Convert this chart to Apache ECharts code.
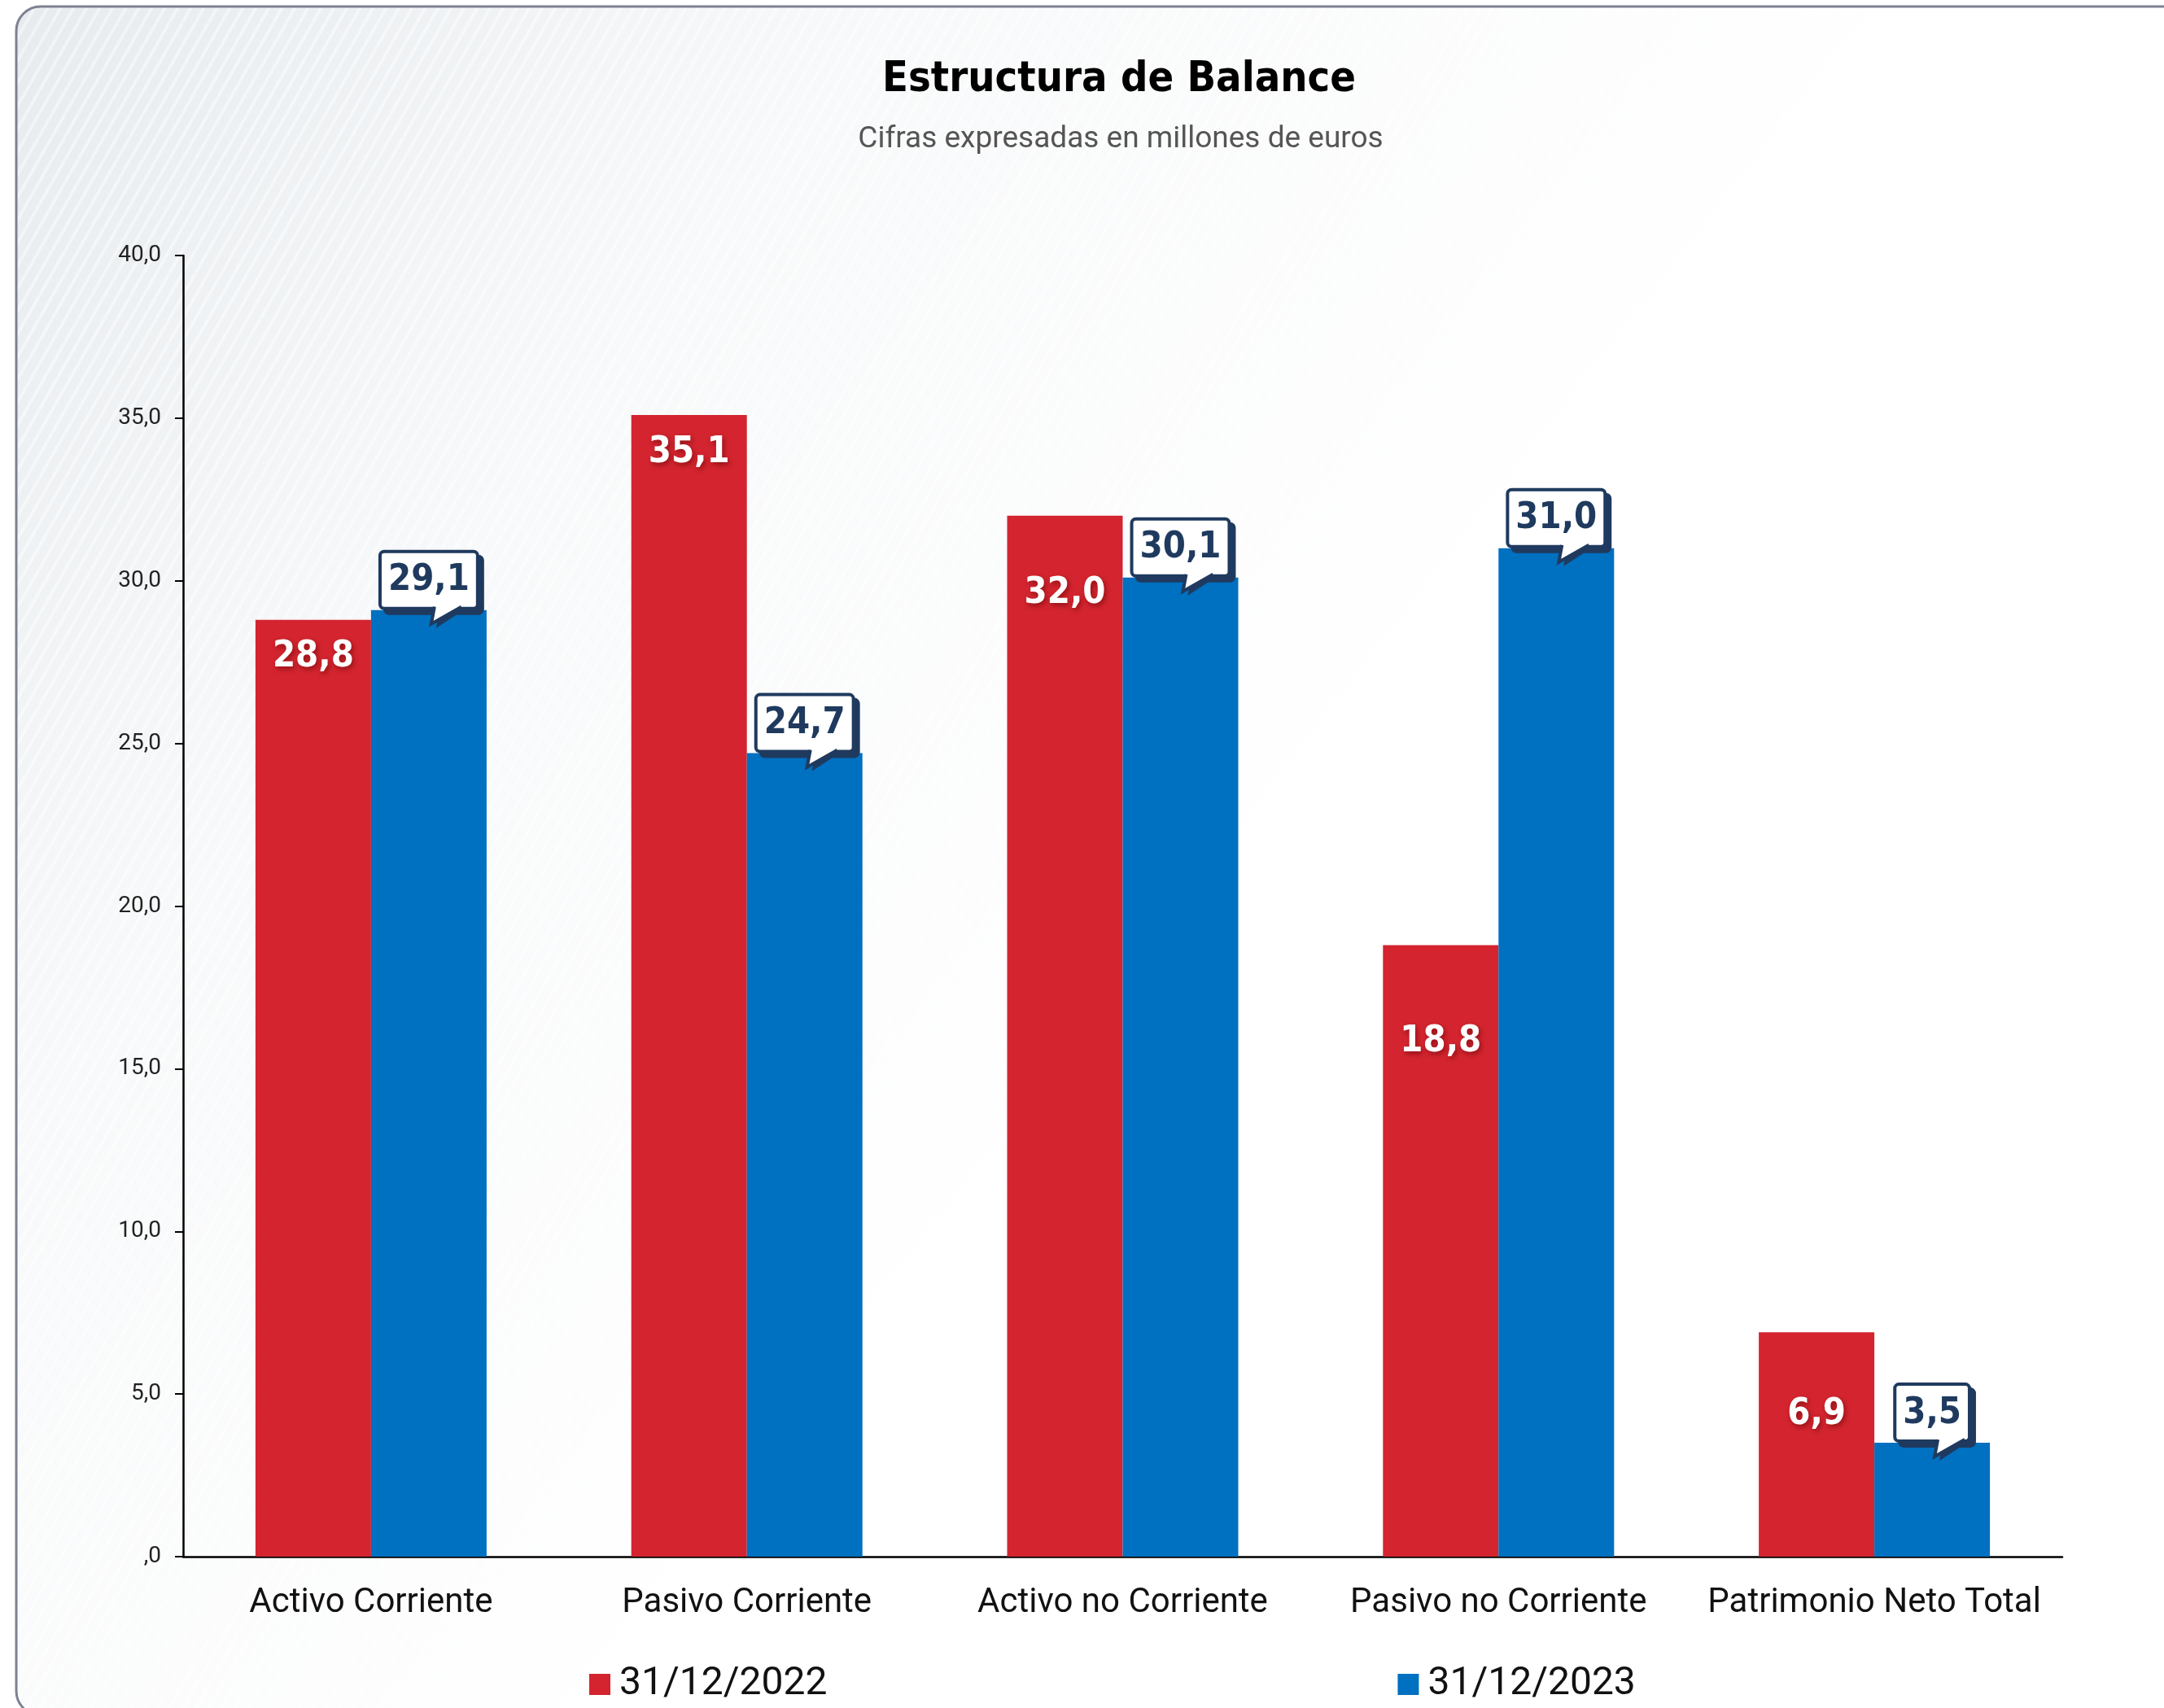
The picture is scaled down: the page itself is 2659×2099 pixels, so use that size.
<!DOCTYPE html>
<html>
<head>
<meta charset="utf-8">
<script src="https://cdn.jsdelivr.net/npm/echarts@6/dist/echarts.min.js"></script>
<style>
  html, body { margin: 0; padding: 0; background: #ffffff; }
  #chart { width: 2659px; height: 2099px; }
</style>
</head>
<body>
<div id="chart"></div>
<script>
// ---- data ----
const categories = ['Activo Corriente', 'Pasivo Corriente', 'Activo no Corriente', 'Pasivo no Corriente', 'Patrimonio Neto Total'];
const seriesNames = ['31/12/2022', '31/12/2023'];
const values2022 = [28.8, 35.1, 32.0, 18.8, 6.9];
const values2023 = [29.1, 24.7, 30.1, 31.0, 3.5];
const yTickLabels = [',0', '5,0', '10,0', '15,0', '20,0', '25,0', '30,0', '35,0', '40,0'];
const titleText = 'Estructura de Balance';
const subtitleText = 'Cifras expresadas en millones de euros';

// ---- styles ----
const RED = '#d3242f';
const BLUE = '#0070c0';
const NAVY = '#1f3a5e';
const redLabelDistance = [21, 21, 71, 94, 76];
const BAR_GAP_FRACTION = 0.385;

function fmt(v) { return v.toFixed(1).replace('.', ','); }

// stripe pattern for background
const tile = document.createElement('canvas');
tile.width = 16; tile.height = 28;
(function () {
  const c = tile.getContext('2d');
  c.fillStyle = '#e7ebee';
  c.fillRect(0, 0, 16, 28);
  c.strokeStyle = '#f1f4f6';
  c.lineWidth = 4;
  [[-16, 0], [0, 0], [16, 0]].forEach(function (o) {
    c.beginPath();
    c.moveTo(o[0], 28);
    c.lineTo(o[0] + 16, 0);
    c.stroke();
  });
})();

const chart = echarts.init(document.getElementById('chart'), null, { renderer: 'canvas' });

const option = {
  animation: false,
  backgroundColor: '#ffffff',
  graphic: [
    {
      type: 'rect', z: -20, silent: true,
      shape: { x: 20, y: 8, width: 2720, height: 2100, r: 30 },
      style: { fill: { image: tile, repeat: 'repeat' }, stroke: null }
    },
    {
      type: 'rect', z: -19, silent: true,
      shape: { x: 20, y: 8, width: 2720, height: 2100, r: 30 },
      style: {
        fill: new echarts.graphic.LinearGradient(0, 0, 0.55, 0.55, [
          { offset: 0, color: 'rgba(255,255,255,0)' },
          { offset: 0.45, color: 'rgba(255,255,255,0.7)' },
          { offset: 1, color: 'rgba(255,255,255,1)' }
        ]),
        stroke: '#7d8291', lineWidth: 3
      }
    }
  ],
  title: [
    {
      text: titleText, left: 1370, top: 62, textAlign: 'center',
      textStyle: { fontFamily: 'DejaVu Sans Condensed', fontWeight: 'bold', fontSize: 52, lineHeight: 62, color: '#000' }
    },
    {
      text: subtitleText, left: 1372, top: 146, textAlign: 'center',
      textStyle: { fontFamily: 'Roboto', fontWeight: 'normal', fontSize: 37, lineHeight: 42, color: '#555' }
    }
  ],
  legend: {
    data: seriesNames,
    left: 719, top: 2041,
    itemWidth: 26, itemHeight: 26, itemGap: 701,
    icon: 'rect',
    textStyle: { fontFamily: 'Roboto', fontSize: 48, color: '#111', padding: [0, 0, 0, 6] }
  },
  grid: { left: 225, right: 125, top: 314, bottom: 186 },
  xAxis: {
    type: 'category',
    data: categories,
    axisLine: { show: true, lineStyle: { color: '#000', width: 2.5 } },
    axisTick: { show: false },
    axisLabel: { interval: 0, fontFamily: 'Roboto', fontSize: 42, color: '#111', margin: 36 }
  },
  yAxis: {
    type: 'value',
    min: 0, max: 40, interval: 5,
    splitLine: { show: false },
    axisLine: { show: true, lineStyle: { color: '#000', width: 2.5 } },
    axisTick: { show: true, length: 10, lineStyle: { color: '#000', width: 2 } },
    axisLabel: {
      fontFamily: 'Roboto', fontSize: 28, color: '#222', margin: 27,
      formatter: function (v) { return yTickLabels[Math.round(v / 5)]; }
    }
  },
  series: [
    {
      name: seriesNames[0], type: 'bar', z: 2,
      barGap: '0%', barCategoryGap: (BAR_GAP_FRACTION * 100) + '%',
      itemStyle: { color: RED },
      data: values2022.map(function (v, i) {
        return {
          value: v,
          label: { distance: redLabelDistance[i] }
        };
      }),
      label: {
        show: true, position: 'insideTop',
        formatter: function (p) { return fmt(p.value); },
        fontFamily: 'DejaVu Sans Condensed', fontWeight: 'bold', fontSize: 45, lineHeight: 50,
        color: '#fff',
        textShadowColor: 'rgba(90,0,0,0.55)', textShadowBlur: 6, textShadowOffsetX: 2, textShadowOffsetY: 3
      }
    },
    {
      name: seriesNames[1], type: 'bar', z: 2,
      barGap: '0%', barCategoryGap: (BAR_GAP_FRACTION * 100) + '%',
      itemStyle: { color: BLUE },
      data: values2023,
      label: {
        show: true, position: 'top', distance: 4,
        formatter: function (p) { return fmt(p.value); },
        fontFamily: 'DejaVu Sans Condensed', fontWeight: 'bold', fontSize: 45, lineHeight: 50,
        color: NAVY,
        backgroundColor: '#ffffff', borderColor: NAVY, borderWidth: 4, borderRadius: 3,
        padding: [9, 8, 7, 8],
        shadowColor: NAVY, shadowBlur: 0, shadowOffsetX: 6, shadowOffsetY: 6
      }
    },
    {
      name: 'callout-tail', type: 'custom', z: 10, clip: false, silent: true,
      data: values2023.map(function (v, i) { return [i, v]; }),
      renderItem: function (params, api) {
        const pt = api.coord([api.value(0), api.value(1)]);
        const band = api.size([1, 0])[0];
        const cx = pt[0] + band * (1 - BAR_GAP_FRACTION) / 4;
        const top = pt[1];
        const yb = top - 4;
        const l = cx + 7, r = cx + 40, ax = cx + 3, ay = top + 17;
        return {
          type: 'group',
          children: [
            {
              type: 'polygon',
              shape: { points: [[l + 6, yb + 2], [r + 6, yb + 2], [ax + 6, ay + 5]] },
              style: { fill: NAVY }
            },
            {
              type: 'polygon',
              shape: { points: [[l, yb - 3], [r, yb - 3], [r, yb], [ax, ay], [l, yb]] },
              style: { fill: '#ffffff' }
            },
            {
              type: 'polyline',
              shape: { points: [[l, yb], [ax, ay], [r, yb]] },
              style: { stroke: NAVY, lineWidth: 4, fill: null, lineJoin: 'miter' }
            }
          ]
        };
      }
    }
  ]
};

chart.setOption(option);
</script>
</body>
</html>
